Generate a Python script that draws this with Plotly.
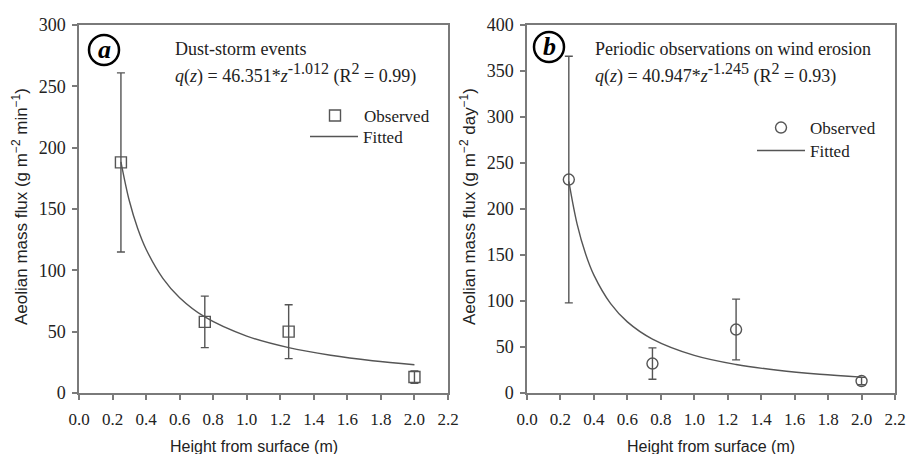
import plotly.graph_objects as go

# ---- data ----
heights = [0.25, 0.75, 1.25, 2.0]
flux_a = [188, 58, 50, 13]
err_a = [73, 21, 22, 5]
flux_b = [232, 32, 69, 13]
err_b = [134, 17, 33, 4]

fit_z = [0.25, 0.3, 0.35, 0.4, 0.5, 0.6, 0.75, 1.0, 1.25, 1.5, 1.75, 2.0]
fit_a = [188.5, 156.7, 134.1, 117.2, 93.5, 77.7, 62.0, 46.4, 37.0, 30.8, 26.3, 23.0]
fit_b = [230.0, 183.3, 151.3, 128.1, 97.1, 77.3, 58.6, 40.9, 31.0, 24.7, 20.4, 17.3]

x_ticks = [0.0, 0.2, 0.4, 0.6, 0.8, 1.0, 1.2, 1.4, 1.6, 1.8, 2.0, 2.2]
x_ticklabels = ["0.0", "0.2", "0.4", "0.6", "0.8", "1.0", "1.2", "1.4", "1.6", "1.8", "2.0", "2.2"]
y_ticks_a = [0, 50, 100, 150, 200, 250, 300]
y_ticks_b = [0, 50, 100, 150, 200, 250, 300, 350, 400]

GREY = "#555555"
AXC = "#7a7a7a"
TXT = "#222222"
SERIF = "Liberation Serif, Times New Roman, serif"
SANS = "Liberation Sans, Arial, sans-serif"

# body margin is removed by post_script; work in window pixels
W, H = 906, 454
def X(px):
    return px / W
def Y(py):
    return 1 - py / H

fig = go.Figure()

fig.add_trace(go.Scatter(
    x=heights, y=flux_a, mode="markers", name="Observed",
    marker=dict(symbol="square-open", size=11, color=GREY, line=dict(width=1.4, color=GREY)),
    error_y=dict(type="data", array=err_a, visible=True, color=GREY, thickness=1.4, width=4),
    xaxis="x", yaxis="y", legend="legend"))
fig.add_trace(go.Scatter(
    x=fit_z, y=fit_a, mode="lines", name="Fitted", line_shape="spline",
    line=dict(color=GREY, width=1.4), xaxis="x", yaxis="y", legend="legend2"))

fig.add_trace(go.Scatter(
    x=heights, y=flux_b, mode="markers", name="Observed",
    marker=dict(symbol="circle-open", size=11, color=GREY, line=dict(width=1.4, color=GREY)),
    error_y=dict(type="data", array=err_b, visible=True, color=GREY, thickness=1.4, width=4),
    xaxis="x2", yaxis="y2", legend="legend3"))
fig.add_trace(go.Scatter(
    x=fit_z, y=fit_b, mode="lines", name="Fitted", line_shape="spline",
    line=dict(color=GREY, width=1.4), xaxis="x2", yaxis="y2", legend="legend4"))

ydom = [Y(393), Y(25)]
common_x = dict(range=[0, 2.2], tickvals=x_ticks, ticktext=x_ticklabels, automargin=False,
                showgrid=False, zeroline=False, showline=True, linecolor=AXC, linewidth=1.5,
                mirror=True, ticks="outside", ticklen=5, tickcolor=AXC, tickwidth=1.5,
                ticklabelstandoff=5, ticklabeloverflow="allow",
                tickfont=dict(family=SERIF, size=17, color=TXT))
common_y = dict(showgrid=False, zeroline=False, showline=True, linecolor=AXC, linewidth=1.5,
                mirror=True, ticks="outside", ticklen=5, tickcolor=AXC, tickwidth=1.5, automargin=False,
                ticklabelstandoff=3,
                tickfont=dict(family=SERIF, size=18, color=TXT), domain=ydom)

leg_common = dict(xanchor="left", yanchor="middle", bgcolor="rgba(0,0,0,0)",
                  font=dict(family=SERIF, size=17, color=TXT), itemwidth=48,
                  tracegroupgap=0)

fig.update_layout(
    width=W, height=H,
    margin=dict(l=0, r=0, t=0, b=0, autoexpand=False),
    paper_bgcolor="white", plot_bgcolor="white",
    xaxis=dict(domain=[X(79), X(448)], anchor="y", **common_x),
    yaxis=dict(range=[0, 300], tickvals=y_ticks_a, anchor="x", **common_y),
    xaxis2=dict(domain=[X(527), X(895)], anchor="y2", **common_x),
    yaxis2=dict(range=[0, 400], tickvals=y_ticks_b, anchor="x2", **common_y),
    legend=dict(x=X(306), y=Y(116), **leg_common),
    legend2=dict(x=X(305), y=Y(137), **leg_common),
    legend3=dict(x=X(752), y=Y(128), **leg_common),
    legend4=dict(x=X(752), y=Y(151), **leg_common),
    showlegend=True,
)

ann = []
def txt(x, y, s, font, size, xanchor="left", angle=0, color=TXT):
    ann.append(dict(x=X(x), y=Y(y), xref="paper", yref="paper", text=s, showarrow=False,
                    xanchor=xanchor, yanchor="middle", textangle=angle,
                    font=dict(family=font, size=size, color=color)))

SUP = "<sup><span style='font-size:16px'>%s</span></sup>"
# panel a texts
txt(173, 49, "Dust-storm events", SERIF, 18)
txt(173, 73, "<i>q</i>(<i>z</i>) = 46.351*<i>z</i>" + SUP % "-1.012" + " (R" + SUP % "2" + " = 0.99)", SERIF, 18)
# panel b texts
txt(593, 49, "Periodic observations on wind erosion", SERIF, 18)
txt(593, 73, "<i>q</i>(<i>z</i>) = 40.947*<i>z</i>" + SUP % "-1.245" + " (R" + SUP % "2" + " = 0.93)", SERIF, 18)

# axis titles
txt(254, 446, "Height from surface (m)", SANS, 16, xanchor="center")
txt(711, 446, "Height from surface (m)", SANS, 16, xanchor="center")
txt(20, 207, "Aeolian mass flux (g m<sup>−2</sup> min<sup>−1</sup>)", SANS, 17, xanchor="center", angle=-90)
txt(468, 207, "Aeolian mass flux (g m<sup>−2</sup> day<sup>−1</sup>)", SANS, 17, xanchor="center", angle=-90)

# panel labels
txt(104, 49, "<b><i>a</i></b>", SERIF, 26, xanchor="center", color="black")
txt(549, 46, "<b><i>b</i></b>", SERIF, 26, xanchor="center", color="black")

fig.update_layout(annotations=ann)

shapes = []
for cx, cy in [(104, 50), (549, 47)]:
    r = 15
    shapes.append(dict(type="circle", xref="paper", yref="paper",
                       x0=X(cx - r), x1=X(cx + r),
                       y0=Y(cy + r), y1=Y(cy - r),
                       line=dict(color="black", width=2.5)))
fig.update_layout(shapes=shapes)

fig.write_html("out.html", config={"displayModeBar": False},
               post_script="document.body.style.margin='0';document.body.style.overflow='hidden';")
